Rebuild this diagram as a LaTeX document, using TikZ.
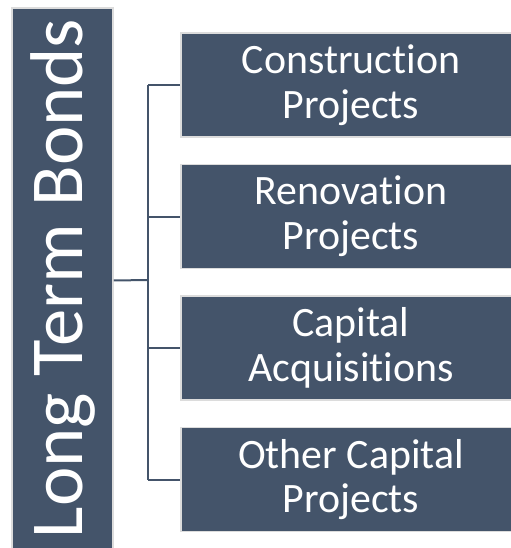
\documentclass[tikz,border=0pt]{standalone}
\usepackage{fontspec}
\setmainfont{Carlito}[Ligatures=NoCommon, RawFeature=-liga;-dlig;-calt]
\usetikzlibrary{positioning}
\definecolor{slate}{HTML}{44546A}
\definecolor{rim}{HTML}{DCDCDC}

\begin{document}
\begin{tikzpicture}[x=1bp, y=-1bp, font=\fontsize{42}{45}\selectfont]
    \tikzset{
      box/.style={draw=rim, line width=1.5bp, fill=slate, text=white, inner sep=0pt},
      item/.style={box, minimum width=340bp, minimum height=104bp, align=center},
      link/.style={draw=slate, line width=2bp}
    }
    \useasboundingbox (0,0) rectangle (511,548);

    % left column
    \node[box, minimum width=101bp, minimum height=545bp] (ltb) at (62.5,280.5) {};
    \node[rotate=90, text=white, font=\fontsize{75}{80}\selectfont] (ltbtext) at (63,278.5) {Long Term Bonds};

    % right column
    \node[item] (cp) at (351,85) {Construction\\Projects};
    \node[item, below=26bp of cp] (rp) {Renovation\\Projects};
    \node[item, below=26bp of rp] (ca) {Capital\\Acquisitions};
    \node[item, below=26bp of ca] (ocp) {Other Capital\\Projects};

    % connectors
    \coordinate (spine) at (148,280);
    \draw[link] (ltb.east) -- (spine);
    \draw[link] (spine |- cp.west) -- (spine |- ocp.west);
    \foreach \n in {cp, rp, ca, ocp}
      \draw[link] (spine |- \n.west) -- (\n.west);
\end{tikzpicture}
\end{document}
